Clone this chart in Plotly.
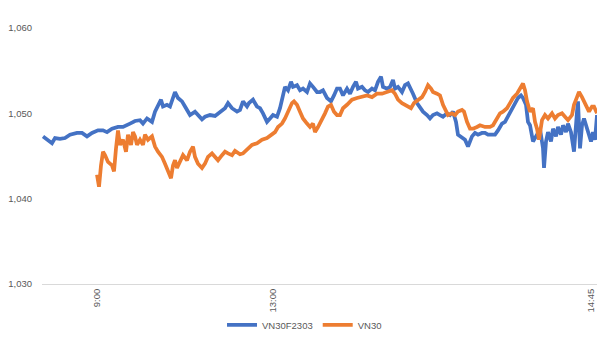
import plotly.graph_objects as go

# Category positions (trade sequence number) and their time labels
tick_index = [55, 231, 549]
tick_text = ["9:00", "13:00", "14:45"]
y_ticks = [1030, 1040, 1050, 1060]

# VN30F2303 futures
vn30f_idx = [1, 5, 10, 13, 18, 23, 28, 35, 40, 45, 50, 56, 61, 65, 70, 76, 81, 88, 93,
             98, 101, 105, 110, 113, 116, 119, 121, 125, 128, 131, 133, 136, 140, 143, 148,
             153, 156, 160, 163, 168, 173, 178, 183, 186, 190, 195,
             198, 201, 205, 207, 211, 215, 218, 221, 225, 228, 231, 235, 238, 241, 243, 246,
             249, 251, 255, 258, 261, 265, 268, 271, 275, 278, 281, 285, 289, 292, 295,
             298, 301, 305, 308, 311, 314, 316, 320, 323, 326, 330, 333, 336, 339, 341, 345,
             348, 351, 353, 356, 360, 363, 366, 369, 371, 375, 378, 381, 385, 388, 391, 395,
             398, 401, 405, 408, 411, 414, 416, 420, 423, 426, 430, 433, 436, 440, 443, 446,
             450, 453, 456, 460, 463, 466, 470, 473, 476, 479, 481, 484, 486,
             488, 491, 495, 498, 501, 502, 504, 506, 509, 511, 514, 516, 519, 521, 524, 526,
             529, 531, 532, 535, 536, 538, 540, 542, 545, 547, 549, 551, 553, 555]
vn30f_val = [1047.3, 1047.0, 1046.5, 1047.1, 1047.0, 1047.1, 1047.5, 1047.7, 1047.7, 1047.3,
             1047.7, 1048.0, 1048.0, 1047.8, 1048.2, 1048.4, 1048.4, 1048.8, 1049.1,
             1049.2, 1048.8, 1049.4, 1049.0, 1050.2, 1050.8, 1051.6, 1050.8, 1051.0, 1050.8,
             1051.9, 1052.5, 1051.8, 1051.4, 1050.8, 1049.8,
             1050.2, 1049.8, 1049.3, 1049.6, 1049.8, 1049.7, 1050.2, 1050.6, 1051.2, 1050.6,
             1050.2,
             1050.4, 1051.4, 1050.8, 1051.2, 1051.6, 1050.8, 1050.6, 1050.0, 1049.0, 1049.4,
             1049.8, 1049.6, 1050.6, 1052.1, 1053.1, 1052.7,
             1053.7, 1053.1, 1053.3, 1052.7, 1052.9, 1052.5, 1053.5, 1053.1, 1052.5, 1052.5,
             1052.7, 1051.8, 1051.4, 1052.1, 1052.9,
             1052.9, 1052.1, 1052.9, 1052.3, 1053.1, 1053.7, 1052.9, 1053.1, 1052.7, 1052.5,
             1052.9, 1052.7, 1053.7, 1054.3, 1053.1, 1052.9,
             1053.1, 1053.9, 1052.9, 1053.1, 1052.5, 1053.3, 1053.5, 1052.9, 1052.3, 1051.2,
             1050.6, 1050.2, 1049.8, 1049.4, 1049.8, 1050.0,
             1049.8, 1049.6, 1050.0, 1049.8, 1050.2, 1049.0, 1047.5, 1047.1, 1046.9, 1046.1,
             1047.3, 1047.7, 1047.5, 1047.7, 1047.7, 1047.5,
             1047.5, 1047.5, 1048.0, 1048.8, 1049.0, 1049.6, 1050.4, 1051.2, 1051.8, 1052.1,
             1051.8, 1051.0, 1049.0,
             1048.6, 1046.7, 1047.5, 1048.2, 1045.9, 1043.6, 1046.7, 1047.8, 1046.7, 1048.2,
             1047.3, 1048.4, 1047.5, 1048.6, 1047.8, 1048.8,
             1047.8, 1046.3, 1045.5, 1050.2, 1051.4, 1045.9, 1048.6, 1049.4, 1048.2, 1047.3,
             1046.7, 1047.8, 1046.9, 1049.8]

# VN30 index
vn30_idx = [55, 57, 59, 61, 63, 66, 70, 72, 74, 76, 78, 81, 84, 86, 89, 91, 93, 95,
            98, 101, 103, 106, 110, 113, 116, 120, 123, 126, 129, 131, 133, 135, 138, 141,
            145, 148, 151, 153, 156, 160, 163, 166, 170, 173, 176, 180, 183, 186, 190, 193,
            198, 201, 205, 210, 215, 220, 225, 230, 233, 236, 240, 243, 246, 250, 252, 255,
            258, 261, 265, 268, 271, 273, 276, 280, 283, 286, 289, 292, 295,
            298, 301, 305, 310, 315, 320, 325, 330, 335, 340, 345, 350, 353, 356, 360, 365,
            369, 372, 376, 380, 383, 386, 389, 391, 395,
            398, 401, 403, 406, 410, 413, 416, 420, 422, 425, 428, 431, 435, 438, 443, 448,
            451, 455, 458, 461, 465, 468, 471, 475, 478, 481, 483, 485,
            488, 491, 493, 495, 497, 500, 503, 506, 510, 513, 516, 520, 523, 526, 530, 532,
            535, 537, 540, 542, 545, 547, 550, 552, 555]
vn30_val = [1042.8, 1041.4, 1043.9, 1045.5, 1045.1, 1044.3, 1043.9, 1043.2, 1045.9, 1048.0,
            1046.3, 1046.9, 1045.5, 1047.5, 1046.3, 1047.8, 1047.3, 1046.3,
            1046.9, 1046.3, 1047.5, 1046.9, 1047.3, 1046.1, 1045.5, 1044.9, 1044.1, 1043.2,
            1042.4, 1043.9, 1044.5, 1043.6, 1044.5, 1045.1,
            1044.5, 1045.5, 1046.1, 1044.9, 1044.1, 1043.6, 1044.1, 1044.9, 1045.3, 1044.9,
            1044.5, 1045.1, 1045.5, 1045.3, 1045.1, 1045.6,
            1045.2, 1045.3, 1045.7, 1046.3, 1046.5, 1046.9, 1047.1, 1047.5, 1047.8, 1048.4,
            1048.8, 1049.4, 1050.2, 1051.2, 1051.4, 1051.0,
            1050.2, 1049.4, 1048.8, 1048.4, 1048.8, 1047.8, 1048.4, 1049.2, 1050.0, 1050.8,
            1051.0, 1050.2, 1049.8,
            1049.8, 1050.6, 1051.0, 1051.6, 1051.8, 1051.9, 1052.1, 1051.9, 1052.3, 1052.3,
            1052.5, 1052.7, 1052.3, 1051.6, 1051.2, 1050.8,
            1050.6, 1051.2, 1051.6, 1051.9, 1052.5, 1053.3, 1052.9, 1052.5, 1052.3,
            1052.1, 1051.0, 1050.6, 1049.8, 1050.0, 1049.8, 1050.2, 1050.4, 1050.2, 1049.0,
            1048.2, 1048.2, 1048.4, 1048.6, 1048.4, 1048.4,
            1048.6, 1049.4, 1050.0, 1050.2, 1050.6, 1051.2, 1051.8, 1052.3, 1052.9, 1053.5,
            1052.7, 1051.4,
            1050.2, 1050.6, 1049.0, 1048.2, 1046.9, 1049.2, 1049.8, 1049.4, 1050.0, 1049.4,
            1049.8, 1050.0, 1049.6, 1049.2, 1049.8, 1051.0,
            1051.9, 1052.5, 1051.9, 1051.4, 1050.8, 1050.2, 1050.8, 1050.8, 1050.0]

fig = go.Figure()
fig.add_trace(go.Scatter(x=vn30f_idx, y=vn30f_val, mode="lines", name="VN30F2303",
                         line=dict(color="#4472C4", width=3.75)))
fig.add_trace(go.Scatter(x=vn30_idx, y=vn30_val, mode="lines", name="VN30",
                         line=dict(color="#ED7D31", width=3.75)))

fig.update_layout(
    width=610, height=346,
    margin=dict(l=42, r=13, t=28, b=62, autoexpand=False),
    paper_bgcolor="white", plot_bgcolor="white",
    font=dict(family="Liberation Sans", size=9.5, color="#595959"),
    showlegend=True,
    legend=dict(orientation="h", x=0.473, xanchor="center", y=-0.16, yanchor="middle",
                bgcolor="rgba(0,0,0,0)", font=dict(size=9.5, color="#595959"),
                itemwidth=30, tracegroupgap=0),
)
fig.update_xaxes(range=[0, 555], tickmode="array", tickvals=tick_index, ticktext=tick_text,
                 tickangle=-90, showgrid=False, zeroline=False, showline=True,
                 linecolor="#D9D9D9", linewidth=1, ticks="", automargin=False)
fig.update_yaxes(range=[1030, 1060], tickmode="array", tickvals=y_ticks, tickformat=",",
                 showgrid=False, zeroline=False, showline=False, ticks="",
                 ticklabelstandoff=9, automargin=False)

fig.write_html("out.html", config={"displayModeBar": False})
